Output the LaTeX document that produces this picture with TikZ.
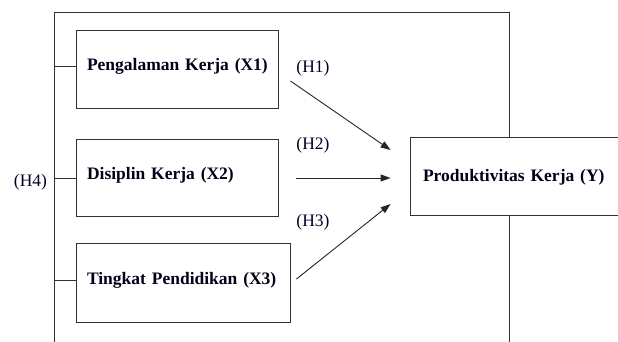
\documentclass[tikz,border=0pt]{standalone}
\usepackage{fontspec}
\setmainfont{Liberation Serif}
\usetikzlibrary{calc,arrows.meta}
\begin{document}
\begin{tikzpicture}[x=1pt,y=-1pt,
  line width=0.9pt,
  lines/.style={draw=black!80},
  varbox/.style={draw=black!80, rectangle, inner xsep=11pt, inner ysep=0pt, align=left,
    font=\fontsize{17.5}{21}\selectfont\bfseries, text=black!90!blue,
    text height=12pt, text depth=9pt, anchor=center},
  hyp/.style={font=\fontsize{17.5}{21}\selectfont, text=black!85!blue, inner sep=0pt},
  arr/.style={draw=black!85, -{Triangle[length=10pt,width=7pt]}}]
\useasboundingbox (0,0) rectangle (618,342);
\clip (0,0) rectangle (618,342);
\fill[white] (0,0) rectangle (618,342);
% boxes
\node[varbox, minimum width=202pt, minimum height=78pt, text width=180pt] (x1) at (177,69) {\mbox{Pengalaman Kerja (X1)}};
\node[varbox, minimum width=202pt, minimum height=77pt, text width=180pt] (x2) at (177,177.5) {\mbox{Disiplin Kerja (X2)}};
\node[varbox, minimum width=214pt, minimum height=79pt, text width=192pt] (x3) at (183,282.5) {\mbox{Tingkat Pendidikan (X3)}};
\node[varbox, minimum width=220pt, minimum height=78pt, text width=194pt, inner xsep=13pt, text depth=0.5pt] (y) at (520,176) {\mbox{Produktivitas Kerja (Y)}};
% frame
\coordinate (tl) at (54,12);
\coordinate (tr) at (509,12);
\coordinate (bl) at (54,343);
\coordinate (br) at (509,343);
\draw[lines] (bl) -- (tl) -- (tr) -- (tr |- y.north);
\draw[lines] (tr |- y.south) -- (br);
% ticks
\draw[lines] ($(tl |- x1.west)+(0,-3)$) -- ($(x1.west)+(0,-3)$);
\draw[lines] ($(tl |- x2.west)+(0,0.5)$) -- ($(x2.west)+(0,0.5)$);
\draw[lines] ($(tl |- x3.west)+(0,-2.5)$) -- ($(x3.west)+(0,-2.5)$);
% arrows
\draw[arr] ($(x1.east)+(12,12)$) -- ($(y.west)+(-19,-26)$);
\draw[arr] ($(x2.east)+(18,0.5)$) -- ($(y.west)+(-19,2)$);
\draw[arr] ($(x3.east)+(6,-3.5)$) -- ($(y.west)+(-19,28)$);
% labels
\node[hyp] (h1) at (313,68) {(H1)};
\node[hyp] (h2) at (313,145) {(H2)};
\node[hyp] (h3) at (313,222) {(H3)};
\node[hyp] (h4) at (30.5,182) {(H4)};
\end{tikzpicture}
\end{document}
